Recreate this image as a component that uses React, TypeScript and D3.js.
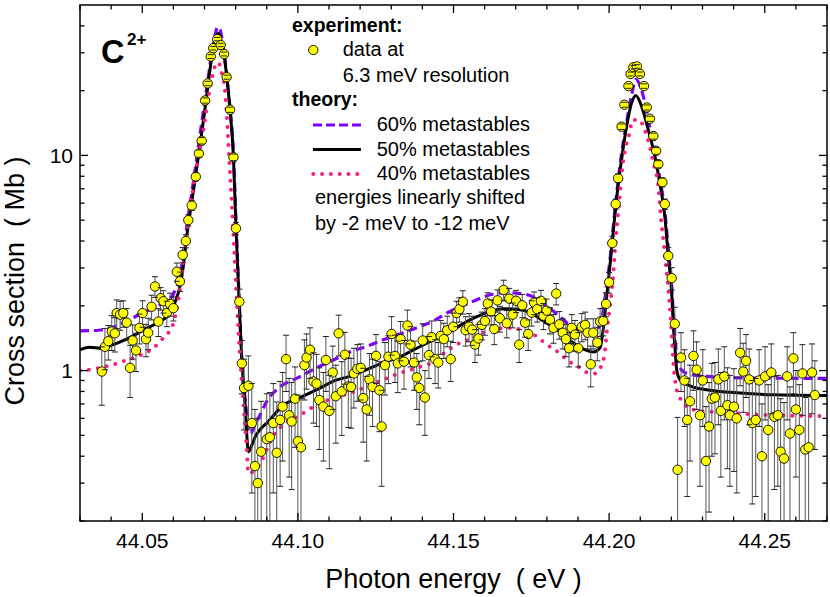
import React from 'react';
import * as d3 from 'd3';

const W = 830;
const H = 597;
const PLOT = { left: 80, right: 827, top: 5, bottom: 521 };
const FONT = '"Liberation Sans", Arial, Helvetica, sans-serif';

const xDomain: [number, number] = [44.03, 44.27];
const yDomain: [number, number] = [0.2, 50];
const xMajor = [44.05, 44.1, 44.15, 44.2, 44.25];
const xLabels = ['44.05', '44.10', '44.15', '44.20', '44.25'];
const yMajor = [1, 10];
const yLabels = ['1', '10'];
const yMinor = [0.2, 0.3, 0.4, 0.5, 0.6, 0.7, 0.8, 0.9, 2, 3, 4, 5, 6, 7, 8, 9, 20, 30, 40];

// theory, 60 % metastables (violet dashed)
const theory60: [number, number][] = [
  [44.03, 1.53], [44.036, 1.54], [44.04, 1.58], [44.045, 1.7], [44.05, 1.85], [44.055, 2.0],
  [44.0589, 2.15], [44.0605, 2.35], [44.0621, 2.75], [44.0632, 3.5], [44.0641, 4.4], [44.0651, 5.6],
  [44.0661, 7.0], [44.0672, 9.0], [44.0682, 11.5], [44.0692, 14.5], [44.0702, 18.3], [44.0712, 23],
  [44.0722, 29], [44.0732, 35], [44.0742, 39.5], [44.075, 38.5], [44.076, 32], [44.0771, 24],
  [44.0782, 16.5], [44.0793, 10.3], [44.0801, 5.0], [44.0811, 2.2], [44.082, 1.12], [44.083, 0.75],
  [44.0841, 0.56], [44.0848, 0.51], [44.0862, 0.56], [44.0878, 0.62], [44.09, 0.72], [44.0932, 0.815],
  [44.1007, 0.937], [44.106, 1.03], [44.1114, 1.12], [44.1167, 1.22], [44.1221, 1.295], [44.1274, 1.39],
  [44.1328, 1.48], [44.1382, 1.58], [44.1435, 1.7], [44.1478, 1.85], [44.1564, 2.1], [44.1617, 2.25],
  [44.1665, 2.3], [44.1714, 2.28], [44.1757, 2.2], [44.18, 2.0], [44.1842, 1.78], [44.1885, 1.58],
  [44.192, 1.52], [44.195, 1.53], [44.1971, 1.62], [44.1981, 1.9], [44.1992, 2.5], [44.2003, 3.3],
  [44.2011, 4.3], [44.2024, 6.6], [44.204, 10.2], [44.2056, 14.2], [44.2072, 19.0], [44.2086, 22.5],
  [44.21, 21.0], [44.2115, 17.5], [44.2126, 14.5], [44.2147, 10.5], [44.2163, 7.8], [44.2179, 5.5],
  [44.219, 3.7], [44.2201, 2.45], [44.2208, 1.7], [44.2214, 1.3], [44.2222, 1.08], [44.2235, 1.0],
  [44.226, 0.96], [44.2313, 0.94], [44.2421, 0.925], [44.27, 0.92],
];

// theory, 50 % metastables (black solid)
const theory50: [number, number][] = [
  [44.03, 1.25], [44.033, 1.285], [44.037, 1.27], [44.04, 1.31], [44.045, 1.4], [44.0514, 1.57],
  [44.0557, 1.69], [44.0589, 1.85], [44.0605, 2.07], [44.0621, 2.46], [44.0632, 3.05], [44.0641, 4.0],
  [44.065, 5.0], [44.066, 6.2], [44.067, 7.8], [44.068, 9.8], [44.069, 12.4], [44.07, 15.8],
  [44.071, 20.5], [44.072, 26.5], [44.073, 32.5], [44.074, 36.5], [44.0746, 37], [44.0753, 34],
  [44.0764, 28.5], [44.0771, 23.5], [44.0782, 16.3], [44.0793, 9.8], [44.0801, 4.7], [44.0811, 2.15],
  [44.082, 1.1], [44.083, 0.72], [44.0841, 0.42], [44.0852, 0.45], [44.0862, 0.49], [44.088, 0.535],
  [44.09, 0.57], [44.0953, 0.69], [44.1007, 0.75], [44.1065, 0.82], [44.112, 0.9], [44.1167, 0.94],
  [44.1221, 1.01], [44.1274, 1.09], [44.1328, 1.16], [44.1382, 1.27], [44.1435, 1.39], [44.1489, 1.52],
  [44.1553, 1.72], [44.1607, 1.86], [44.166, 1.94], [44.1703, 1.93], [44.1746, 1.86], [44.1789, 1.7],
  [44.1832, 1.55], [44.1874, 1.38], [44.1917, 1.26], [44.1949, 1.22], [44.1971, 1.28], [44.1981, 1.55],
  [44.1992, 2.2], [44.2003, 3.1], [44.2011, 4.1], [44.2024, 6.3], [44.204, 9.6], [44.2056, 13.6],
  [44.2072, 17.5], [44.2086, 19.0], [44.2105, 16.8], [44.2126, 13.1], [44.2147, 9.9], [44.2163, 7.4],
  [44.2179, 5.2], [44.219, 3.4], [44.2201, 2.3], [44.2206, 1.65], [44.2212, 1.25], [44.2217, 1.01],
  [44.2228, 0.907], [44.226, 0.85], [44.2313, 0.815], [44.2421, 0.786], [44.2527, 0.772], [44.27, 0.766],
];

// theory, 40 % metastables (pink dotted)
const theory40: [number, number][] = [
  [44.03, 1.0], [44.035, 1.02], [44.04, 1.06], [44.045, 1.12], [44.05, 1.19], [44.0535, 1.27],
  [44.0562, 1.39], [44.0583, 1.49], [44.0605, 1.76], [44.0616, 2.13], [44.0627, 2.83], [44.0637, 3.7],
  [44.0648, 5.0], [44.0659, 6.4], [44.0675, 9.0], [44.0696, 13.0], [44.0712, 18.5], [44.0727, 24],
  [44.074, 27], [44.0748, 26.5], [44.0756, 24], [44.0765, 20.5], [44.0771, 16], [44.0776, 11.8],
  [44.0782, 8.3], [44.0787, 6.2], [44.0793, 4.3], [44.0803, 2.2], [44.0815, 1.1], [44.0826, 0.68],
  [44.0835, 0.45], [44.0841, 0.333], [44.0873, 0.36], [44.0926, 0.51], [44.0953, 0.56], [44.1007, 0.62],
  [44.106, 0.694], [44.1114, 0.745], [44.1167, 0.786], [44.1221, 0.844], [44.1274, 0.907], [44.1328, 0.974],
  [44.1382, 1.03], [44.1435, 1.1], [44.1478, 1.23], [44.151, 1.32], [44.1553, 1.4], [44.1607, 1.52],
  [44.1671, 1.58], [44.1725, 1.54], [44.1768, 1.44], [44.18, 1.32], [44.1826, 1.25], [44.1853, 1.16],
  [44.188, 1.08], [44.1907, 1.03], [44.1928, 0.98], [44.1955, 0.97], [44.1976, 1.06], [44.1987, 1.25],
  [44.1992, 1.49], [44.2003, 2.0], [44.2011, 2.55], [44.2022, 4.2], [44.2033, 6.2], [44.2043, 8.9],
  [44.2054, 11], [44.2065, 12.6], [44.2075, 14.6], [44.2097, 14.6], [44.2113, 13.3], [44.2129, 11.2],
  [44.2145, 8.9], [44.2158, 7.2], [44.2166, 5.2], [44.2177, 3.7], [44.2188, 2.55], [44.2199, 1.66],
  [44.2206, 1.1], [44.2217, 0.815], [44.2228, 0.745], [44.2249, 0.68], [44.2292, 0.65], [44.2366, 0.64],
  [44.2527, 0.62], [44.27, 0.615],
];

// experiment: [photon energy (eV), cross section (Mb), error (Mb)]
const expData: [number, number, number][] = [
  [44.037, 0.99, 0.3], [44.038, 1.29, 0.28], [44.0391, 1.37, 0.25], [44.0402, 1.52, 0.28],
  [44.0412, 1.49, 0.27], [44.0418, 1.85, 0.28], [44.0429, 1.82, 0.28], [44.0439, 1.85, 0.26],
  [44.045, 1.67, 0.27], [44.0461, 1.03, 0.28], [44.0469, 1.38, 0.25], [44.048, 1.24, 0.25],
  [44.0491, 1.58, 0.25], [44.0501, 1.85, 0.26], [44.0512, 1.4, 0.24], [44.0519, 1.5, 0.25],
  [44.053, 1.98, 0.26], [44.0541, 2.46, 0.27], [44.0552, 1.69, 0.25], [44.0559, 2.17, 0.26],
  [44.0568, 2.1, 0.25], [44.0579, 1.85, 0.25], [44.0589, 2.04, 0.25], [44.06, 1.95, 0.25],
  [44.0611, 2.88, 0.28], [44.0621, 2.6, 0.27], [44.063, 3.45, 0.28], [44.064, 4.0, 0.28],
  [44.0648, 5.0, 0.3], [44.0659, 5.85, 0.3],
  [44.0672, 7.96, 0.35], [44.0682, 10.2, 0.4], [44.0691, 11.7, 0.4], [44.0702, 18.0, 0.5],
  [44.071, 21.6, 0.5], [44.072, 28.8, 0.6], [44.0728, 31.5, 0.6], [44.0741, 34.7, 0.6],
  [44.0752, 32.6, 0.6], [44.0763, 29.6, 0.6], [44.0771, 23.1, 0.5], [44.0782, 16.3, 0.45],
  [44.0793, 9.8, 0.35], [44.0801, 4.58, 0.3], [44.0812, 2.09, 0.3], [44.082, 1.08, 0.3],
  [44.0827, 0.83, 0.3], [44.0841, 0.85, 0.32], [44.0852, 0.57, 0.3], [44.0862, 0.36, 0.3],
  [44.0871, 0.3, 0.3], [44.0882, 0.42, 0.3], [44.09, 0.48, 0.3], [44.091, 0.49, 0.3],
  [44.0921, 0.57, 0.3], [44.0932, 0.415, 0.3], [44.0943, 0.59, 0.3], [44.0951, 0.68, 0.3],
  [44.0962, 1.13, 0.33], [44.0972, 0.62, 0.3], [44.098, 0.58, 0.3], [44.0991, 0.74, 0.3],
  [44.1, 0.47, 0.3], [44.101, 0.44, 0.3], [44.1021, 1.06, 0.33], [44.1028, 1.15, 0.33],
  [44.1039, 1.25, 0.33], [44.105, 0.89, 0.32], [44.106, 0.87, 0.32], [44.1069, 0.73, 0.3],
  [44.1082, 0.68, 0.3], [44.109, 1.12, 0.32], [44.1101, 0.65, 0.3], [44.1112, 0.98, 0.32],
  [44.1122, 0.76, 0.3], [44.1131, 1.49, 0.32], [44.1141, 0.8, 0.3], [44.1151, 1.185, 0.32],
  [44.1162, 0.844, 0.3], [44.1171, 0.84, 0.3], [44.118, 0.97, 0.3], [44.1191, 1.02, 0.3],
  [44.1202, 1.03, 0.3], [44.121, 0.745, 0.28], [44.1221, 0.66, 0.28], [44.123, 0.91, 0.29],
  [44.124, 0.84, 0.29], [44.1251, 1.17, 0.3], [44.1262, 0.81, 0.29], [44.1269, 0.55, 0.26],
  [44.128, 1.06, 0.29], [44.1291, 1.16, 0.29], [44.1301, 1.48, 0.3], [44.1312, 1.17, 0.29],
  [44.1321, 1.08, 0.29], [44.133, 1.4, 0.29], [44.1341, 1.1, 0.28], [44.1352, 1.62, 0.29],
  [44.1362, 1.32, 0.28], [44.1373, 1.09, 0.28], [44.1382, 0.93, 0.27], [44.139, 0.83, 0.27],
  [44.1401, 1.38, 0.27], [44.1408, 0.75, 0.25], [44.1421, 1.18, 0.26], [44.143, 1.43, 0.27],
  [44.1441, 1.13, 0.26], [44.1451, 1.09, 0.26], [44.1459, 1.45, 0.26], [44.1469, 1.4, 0.26],
  [44.148, 1.54, 0.25], [44.1491, 1.13, 0.24], [44.1499, 1.6, 0.25], [44.151, 1.85, 0.25],
  [44.1519, 1.93, 0.25], [44.153, 2.09, 0.26], [44.1539, 1.54, 0.24], [44.155, 1.6, 0.24],
  [44.156, 1.55, 0.24], [44.1569, 1.32, 0.23], [44.158, 1.41, 0.23], [44.1591, 1.63, 0.24],
  [44.1601, 1.7, 0.24], [44.161, 2.05, 0.25], [44.1621, 1.88, 0.25], [44.1631, 1.56, 0.24],
  [44.1641, 2.12, 0.25], [44.1649, 1.75, 0.24], [44.1661, 2.37, 0.26], [44.1671, 1.66, 0.24],
  [44.1679, 2.16, 0.25], [44.169, 1.82, 0.24], [44.1701, 2.11, 0.25], [44.1711, 1.32, 0.23],
  [44.1721, 2.01, 0.25], [44.173, 1.67, 0.24], [44.174, 1.48, 0.24], [44.1751, 1.86, 0.25],
  [44.1759, 2.07, 0.25], [44.1769, 1.93, 0.25], [44.1781, 2.11, 0.25], [44.1789, 1.8, 0.25],
  [44.1799, 1.9, 0.25], [44.181, 1.72, 0.24], [44.1821, 1.58, 0.24], [44.183, 2.28, 0.26],
  [44.184, 1.64, 0.24], [44.1851, 1.5, 0.24], [44.1861, 1.4, 0.24], [44.1871, 1.27, 0.23],
  [44.188, 1.58, 0.24], [44.189, 1.47, 0.24], [44.1901, 1.27, 0.23], [44.1912, 1.6, 0.24],
  [44.1923, 1.63, 0.24], [44.1931, 1.5, 0.24], [44.1941, 1.07, 0.23], [44.1949, 1.5, 0.24],
  [44.1962, 1.35, 0.24], [44.1971, 1.69, 0.25], [44.1981, 1.7, 0.25], [44.199, 2.04, 0.26],
  [44.2, 2.57, 0.28],
  [44.201, 3.91, 0.3], [44.2021, 5.94, 0.32], [44.2029, 7.83, 0.35], [44.204, 13.6, 0.4],
  [44.2049, 17.2, 0.45], [44.2062, 21.0, 0.5], [44.2069, 23.9, 0.5], [44.2078, 25.7, 0.5],
  [44.2089, 25.9, 0.5], [44.2099, 23.9, 0.5], [44.2112, 21.0, 0.5], [44.2121, 16.7, 0.45],
  [44.2131, 14.8, 0.4], [44.2142, 12.3, 0.4], [44.2151, 10.5, 0.38], [44.2158, 9.1, 0.35],
  [44.2171, 7.5, 0.35], [44.2179, 5.94, 0.33], [44.219, 3.41, 0.32], [44.2201, 2.69, 0.32],
  [44.2211, 1.65, 0.32],
  [44.222, 0.346, 0.26], [44.2231, 1.15, 0.35], [44.2242, 0.9, 0.35], [44.2251, 0.59, 0.33],
  [44.226, 0.72, 0.34], [44.2271, 1.17, 0.36], [44.2281, 1.01, 0.35], [44.2292, 0.62, 0.33],
  [44.2301, 0.9, 0.35], [44.2311, 0.38, 0.3], [44.2321, 0.55, 0.33], [44.233, 0.74, 0.34],
  [44.234, 0.75, 0.34], [44.2351, 0.91, 0.35], [44.2359, 0.65, 0.33], [44.237, 0.94, 0.35],
  [44.238, 0.69, 0.34], [44.2388, 0.62, 0.33], [44.2401, 0.68, 0.34], [44.241, 0.6, 0.33],
  [44.2421, 1.21, 0.36], [44.2431, 0.99, 0.35], [44.244, 1.11, 0.36], [44.245, 0.91, 0.35],
  [44.246, 0.57, 0.33], [44.2471, 0.59, 0.33], [44.2482, 0.9, 0.35], [44.2491, 0.4, 0.3],
  [44.2501, 0.94, 0.35], [44.2511, 0.53, 0.33], [44.2521, 0.98, 0.35], [44.2531, 0.61, 0.33],
  [44.2542, 0.62, 0.33], [44.2551, 0.42, 0.32], [44.2562, 0.39, 0.32], [44.2572, 0.94, 0.35],
  [44.2581, 0.51, 0.33], [44.2592, 1.14, 0.36], [44.26, 0.66, 0.34], [44.2611, 0.53, 0.33],
  [44.2621, 0.97, 0.35], [44.263, 0.43, 0.32], [44.2641, 0.44, 0.32], [44.2652, 0.98, 0.35],
  [44.2661, 0.77, 0.34],
];

const x = d3.scaleLinear().domain(xDomain).range([PLOT.left, PLOT.right]);
const y = d3.scaleLog().domain(yDomain).range([PLOT.bottom, PLOT.top]);
const xMinor = d3.range(0, 25).map(i => +(44.03 + i * 0.01).toFixed(2)).filter(v => !xMajor.some(m => Math.abs(m - v) < 1e-6));

const line = d3.line<[number, number]>()
  .x(d => x(d[0]))
  .y(d => y(d[1]))
  .curve(d3.curveMonotoneX);

export default function App() {
  const plotW = PLOT.right - PLOT.left;
  const plotH = PLOT.bottom - PLOT.top;
  const major = 8;
  const minor = 4.5;

  return (
    <div style={{ position: 'absolute', left: 0, top: 0 }}>
      <svg width={W} height={H} style={{ display: 'block', background: '#fff' }} fontFamily={FONT}>
        <defs>
          <clipPath id="plot-clip">
            <rect x={PLOT.left} y={PLOT.top} width={plotW} height={plotH} />
          </clipPath>
        </defs>

        {/* theory curves */}
        <g clipPath="url(#plot-clip)" fill="none">
          <path d={line(theory60) || ''} stroke="#8000ff" strokeWidth={3.2} strokeDasharray="9 5" />
          <path d={line(theory50) || ''} stroke="#000" strokeWidth={3} />
          <path d={line(theory40) || ''} stroke="#ff1a80" strokeWidth={4} strokeDasharray="0 9" strokeLinecap="round" />
        </g>

        {/* experiment */}
        <g clipPath="url(#plot-clip)">
          {expData.map((d, i) => {
            const cx = x(d[0]);
            const lo = d[1] - d[2];
            const y1 = y(d[1] + d[2]);
            const y2 = lo > 0.05 ? y(lo) : PLOT.bottom + 20;
            return <line key={'e' + i} x1={cx} x2={cx} y1={y1} y2={y2} stroke="#555" strokeWidth={1} />;
          })}
          {expData.map((d, i) => (
            <circle key={'c' + i} cx={x(d[0])} cy={y(d[1])} r={4.7} fill="#ffff00" stroke="#000" strokeWidth={0.9} />
          ))}
          {expData.map((d, i) => {
            const cx = x(d[0]);
            const lo = d[1] - d[2];
            const y1 = y(d[1] + d[2]);
            return (
              <g key={'k' + i} stroke="#222" strokeWidth={1}>
                <line x1={cx - 3} x2={cx + 3} y1={y1} y2={y1} />
                {lo > 0.05 && <line x1={cx - 3} x2={cx + 3} y1={y(lo)} y2={y(lo)} />}
              </g>
            );
          })}
        </g>

        {/* frame and ticks */}
        <rect x={PLOT.left} y={PLOT.top} width={plotW} height={plotH} fill="none" stroke="#000" strokeWidth={1.5} />
        <g stroke="#000" strokeWidth={1.3}>
          {xMajor.map(v => (
            <g key={'xm' + v}>
              <line x1={x(v)} x2={x(v)} y1={PLOT.bottom} y2={PLOT.bottom - major} />
              <line x1={x(v)} x2={x(v)} y1={PLOT.top} y2={PLOT.top + major} />
            </g>
          ))}
          {xMinor.map(v => (
            <g key={'xn' + v}>
              <line x1={x(v)} x2={x(v)} y1={PLOT.bottom} y2={PLOT.bottom - minor} />
              <line x1={x(v)} x2={x(v)} y1={PLOT.top} y2={PLOT.top + minor} />
            </g>
          ))}
          {yMajor.map(v => (
            <g key={'ym' + v}>
              <line x1={PLOT.left} x2={PLOT.left + major} y1={y(v)} y2={y(v)} />
              <line x1={PLOT.right} x2={PLOT.right - major} y1={y(v)} y2={y(v)} />
            </g>
          ))}
          {yMinor.map(v => (
            <g key={'yn' + v}>
              <line x1={PLOT.left} x2={PLOT.left + minor} y1={y(v)} y2={y(v)} />
              <line x1={PLOT.right} x2={PLOT.right - minor} y1={y(v)} y2={y(v)} />
            </g>
          ))}
        </g>

        {/* tick labels */}
        <g fontSize={21} fill="#000">
          {xMajor.map((v, i) => (
            <text key={'xl' + v} x={x(v)} y={548} textAnchor="middle">{xLabels[i]}</text>
          ))}
          {yMajor.map((v, i) => (
            <text key={'yl' + v} x={73} y={y(v) + 7.5} textAnchor="end">{yLabels[i]}</text>
          ))}
        </g>

        {/* axis titles */}
        <text x={(PLOT.left + PLOT.right) / 2} y={588} textAnchor="middle" fontSize={27}>
          {'Photon energy\u00a0\u00a0( eV )'}
        </text>
        <text transform="translate(24,281) rotate(-90)" textAnchor="middle" fontSize={27}>
          {'Cross section\u00a0\u00a0( Mb )'}
        </text>

        {/* ion label */}
        <text x={101} y={63} fontSize={32.5} fontWeight="bold">C</text>
        <text x={127} y={45} fontSize={17} fontWeight="bold">2+</text>

        {/* legend */}
        <g fontSize={20}>
          <text x={292} y={32} fontWeight="bold" fontSize={19.5}>experiment:</text>
          <circle cx={313.3} cy={50} r={4.7} fill="#ffff00" stroke="#000" strokeWidth={0.9} />
          <text x={342.7} y={56}>data at</text>
          <text x={342.7} y={82}>6.3 meV resolution</text>
          <text x={292} y={106} fontWeight="bold" fontSize={19.5}>theory:</text>
          <line x1={313} x2={361} y1={125} y2={125} stroke="#8000ff" strokeWidth={3.2} strokeDasharray="9 4" />
          <text x={376.7} y={131}>60% metastables</text>
          <line x1={313} x2={361} y1={149.5} y2={149.5} stroke="#000" strokeWidth={3} />
          <text x={376.7} y={156}>50% metastables</text>
          <line x1={313.3} x2={357.4} y1={174} y2={174} stroke="#ff1a80" strokeWidth={4} strokeDasharray="0 8.8" strokeLinecap="round" />
          <text x={376.7} y={180}>40% metastables</text>
          <text x={315} y={204}>energies linearly shifted</text>
          <text x={315} y={230}>by -2 meV to -12 meV</text>
        </g>
      </svg>
    </div>
  );
}
